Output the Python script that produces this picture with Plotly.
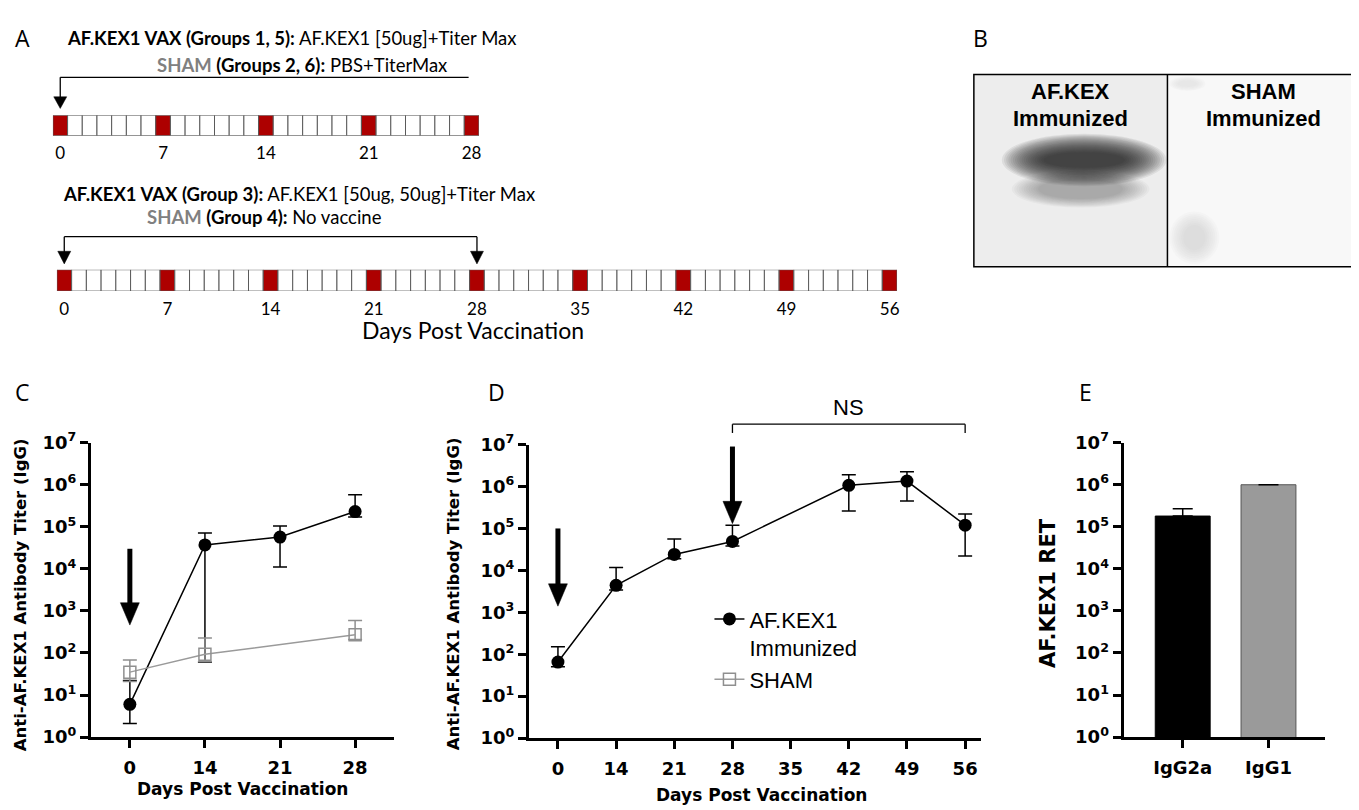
import math
import plotly.graph_objects as go

W, H = 1359, 810

# ---------------- data ----------------
# panel A: vaccination timelines (days, dosing days marked)
top_days = list(range(0, 29))
top_dose_days = [0, 7, 14, 21, 28]
bottom_days = list(range(0, 57))
bottom_dose_days = [0, 7, 14, 21, 28, 35, 42, 49, 56]

# panel C: titers, groups 1/2
c_days = ["0", "14", "21", "28"]
c_kex = [6, 37000, 57000, 230000]
c_kex_hi = [22, 71000, 105000, 575000]
c_kex_lo = [2.1, 60, 11000, 170000]
c_sham_days = ["0", "14", "28"]
c_sham = [35, 93, 270]
c_sham_hi = [68, 228, 590]
c_sham_lo = [21, 62, 210]

# panel D: titers, group 3 (boost at day 28)
d_days = ["0", "14", "21", "28", "35", "42", "49", "56"]
d_kex_days = ["0", "14", "21", "28", "42", "49", "56"]
d_kex = [65, 4400, 24000, 49000, 1070000, 1350000, 120000]
d_kex_hi = [150, 11700, 56000, 120000, 1900000, 2240000, 220000]
d_kex_lo = [50, 3400, 19000, 38000, 260000, 450000, 22000]

# panel E: isotype endpoint titers
e_iso = ["IgG2a", "IgG1"]
e_ret = [180000, 1000000]
e_ret_hi = [270000, None]

log_ticks = [1, 10, 100, 1000, 10000, 100000, 1000000, 10000000]
log_ticktext = ["10<sup>%d</sup>" % i for i in range(8)]

RED = "#ad0000"
GREY = "#8f8f8f"
BOLD = "DejaVu Sans"
ARIAL = "Liberation Sans"
CAL = "Lato"


def fx(x):
    return x / W


def fy(y):
    return 1 - y / H


# panel geometry in pixels
geo = {
    "C": dict(x0=83, x1=387, yb=737, yt=434, xr=(-0.52, 3.52)),
    "D": dict(x0=522, x1=975, yb=738, yt=436, xr=(-0.5, 7.27)),
    "E": dict(x0=1118, x1=1320, yb=737, yt=434, xr=(-0.69, 1.66)),
    "T1": dict(x0=45, x1=472, yb=118, yt=97, xr=(-0.5, 28.5)),
    "T2": dict(x0=49, x1=891, yb=278, yt=256, xr=(-0.5, 56.5)),
}


def gx(p, i):
    g = geo[p]
    return g["x0"] + (i - g["xr"][0]) / (g["xr"][1] - g["xr"][0]) * (g["x1"] - g["x0"])


def gy(p, v):
    g = geo[p]
    return g["yb"] - math.log10(v) / 7 * (g["yb"] - g["yt"])


fig = go.Figure()

# ---------------- panel A ----------------
for days, doses, xa, ya in [(top_days, top_dose_days, "x", "y"),
                            (bottom_days, bottom_dose_days, "x2", "y2")]:
    fig.add_trace(go.Bar(
        x=days, y=[1] * len(days), width=1,
        marker=dict(color=[RED if d in doses else "white" for d in days],
                    line=dict(color="#5a5a5a", width=1)),
        xaxis=xa, yaxis=ya, showlegend=False, hoverinfo="skip"))

# ---------------- panel C ----------------
fig.add_trace(go.Scatter(
    x=c_days, y=c_kex, mode="lines+markers", name="AF.KEX1<br>Immunized",
    line=dict(color="black", width=1.5),
    marker=dict(color="black", size=13),
    error_y=dict(type="data", symmetric=False,
                 array=[h - v for h, v in zip(c_kex_hi, c_kex)],
                 arrayminus=[v - l for v, l in zip(c_kex, c_kex_lo)],
                 color="black", thickness=1.5, width=7),
    xaxis="x3", yaxis="y3"))
fig.add_trace(go.Scatter(
    x=c_sham_days, y=c_sham, mode="lines+markers", name="SHAM",
    line=dict(color="#9a9a9a", width=1.5),
    marker=dict(color=GREY, size=12, symbol="square-open", line=dict(width=1.5)),
    error_y=dict(type="data", symmetric=False,
                 array=[h - v for h, v in zip(c_sham_hi, c_sham)],
                 arrayminus=[v - l for v, l in zip(c_sham, c_sham_lo)],
                 color=GREY, thickness=1.5, width=7),
    xaxis="x3", yaxis="y3"))

# ---------------- panel D ----------------
fig.add_trace(go.Scatter(
    x=d_kex_days, y=d_kex, mode="lines+markers", showlegend=False,
    line=dict(color="black", width=1.5),
    marker=dict(color="black", size=13),
    error_y=dict(type="data", symmetric=False,
                 array=[h - v for h, v in zip(d_kex_hi, d_kex)],
                 arrayminus=[v - l for v, l in zip(d_kex, d_kex_lo)],
                 color="black", thickness=1.5, width=7),
    xaxis="x4", yaxis="y4"))

# ---------------- panel E ----------------
fig.add_trace(go.Bar(
    x=e_iso, y=e_ret, width=0.64, showlegend=False,
    marker=dict(color=["black", "#9a9a9a"], line=dict(color=["black", "#555555"], width=1)),
    error_y=dict(type="data", symmetric=False,
                 array=[None if h is None else h - v for h, v in zip(e_ret_hi, e_ret)],
                 arrayminus=[0, 0], color="black", thickness=1.5, width=10),
    xaxis="x5", yaxis="y5"))

# ---------------- axes ----------------
def dom_x(p):
    return [fx(geo[p]["x0"]), fx(geo[p]["x1"])]


def dom_y(p):
    return [fy(geo[p]["yb"]), fy(geo[p]["yt"])]


tl_axis = dict(showgrid=False, zeroline=False, showline=False, ticks="outside",
               ticklen=2, tickcolor="rgba(0,0,0,0)", tickfont=dict(family=CAL, size=17, color="black"))
fig.update_layout(
    xaxis=dict(tl_axis, domain=dom_x("T1"), range=list(geo["T1"]["xr"]), tickvals=top_dose_days, anchor="y"),
    yaxis=dict(domain=dom_y("T1"), range=[0, 1], visible=False, anchor="x"),
    xaxis2=dict(tl_axis, domain=dom_x("T2"), range=list(geo["T2"]["xr"]), tickvals=bottom_dose_days, anchor="y2"),
    yaxis2=dict(domain=dom_y("T2"), range=[0, 1], visible=False, anchor="x2"),
)

gp_x = dict(type="category", showgrid=False, zeroline=False, showline=True, linewidth=3,
            linecolor="black", ticks="outside", ticklen=8, tickwidth=3, tickcolor="black",
            ticklabelstandoff=4,
            tickfont=dict(family=BOLD, size=18, color="black", weight="bold"))
gp_y = dict(type="log", range=[0, 7], showgrid=False, zeroline=False, showline=True, linewidth=3,
            linecolor="black", ticks="outside", ticklen=8, tickwidth=3, tickcolor="black",
            tickvals=log_ticks, ticktext=log_ticktext, ticklabelstandoff=0,
            tickfont=dict(family=BOLD, size=18, color="black", weight="bold"))

fig.update_layout(
    xaxis3=dict(gp_x, domain=dom_x("C"), range=list(geo["C"]["xr"]), categoryorder="array",
                categoryarray=c_days, anchor="y3"),
    yaxis3=dict(gp_y, domain=dom_y("C"), anchor="x3"),
    xaxis4=dict(gp_x, domain=dom_x("D"), range=list(geo["D"]["xr"]), categoryorder="array",
                categoryarray=d_days, tickvals=d_days, anchor="y4"),
    yaxis4=dict(gp_y, domain=dom_y("D"), anchor="x4"),
    xaxis5=dict(gp_x, domain=dom_x("E"), range=list(geo["E"]["xr"]), categoryorder="array",
                categoryarray=e_iso, anchor="y5"),
    yaxis5=dict(gp_y, domain=dom_y("E"), anchor="x5"),
)

# ---------------- shapes ----------------
shapes = []


def line(x0, y0, x1, y1, w=1.3, color="black"):
    shapes.append(dict(type="line", xref="paper", yref="paper", x0=fx(x0), y0=fy(y0),
                       x1=fx(x1), y1=fy(y1), line=dict(color=color, width=w)))


def tri_down(x, tip, half, length):
    shapes.append(dict(type="path", xref="paper", yref="paper",
                       path="M %f,%f L %f,%f L %f,%f Z" % (fx(x - half), fy(tip - length),
                                                          fx(x + half), fy(tip - length),
                                                          fx(x), fy(tip)),
                       fillcolor="black", line=dict(color="black", width=0.5)))


# timeline brackets
a0 = gx("T1", 0)
a28 = gx("T1", 28)
line(a28 - 3, 58, a0, 58)
line(a0, 58, a0, 80)
tri_down(a0, 90, 6.5, 12)

b0 = gx("T2", 0)
b28 = gx("T2", 28)
line(b0, 222, b28, 222)
for bx in (b0, b28):
    line(bx, 222, bx, 240)
    tri_down(bx, 250, 6.5, 13)


# big vaccination arrows on C and D
def big_arrow(p, i, top_val, tip_val):
    x = gx(p, i)
    top = gy(p, top_val)
    tip = gy(p, tip_val)
    line(x, top, x, tip - 20, w=5)
    tri_down(x, tip, 9.5, 23)


big_arrow("C", 0, 30000, 460)
big_arrow("D", 0, 100000, 1400)
big_arrow("D", 3, 9000000, 130000)

# NS bracket on D
n0 = gx("D", 3)
n1 = gx("D", 7)
line(n0, 415, n1, 415, w=1.3)
line(n0, 415, n0, 424, w=1.3)
line(n1, 415, n1, 424, w=1.3)

# panel B: western blot picture
shapes.append(dict(type="rect", xref="paper", yref="paper", x0=fx(968), x1=fx(1162),
                   y0=fy(253), y1=fy(55), fillcolor="#ededed", line=dict(width=0), layer="below"))
shapes.append(dict(type="rect", xref="paper", yref="paper", x0=fx(1162), x1=fx(1357),
                   y0=fy(253), y1=fy(55), fillcolor="#f8f8f8", line=dict(width=0), layer="below"))


def blur(x0, y0, x1, y1, color, op, steps, shrink_x, shrink_y):
    for k in range(steps):
        shapes.append(dict(type="circle", xref="paper", yref="paper",
                           x0=fx(x0 + k * shrink_x), x1=fx(x1 - k * shrink_x),
                           y0=fy(y1 - k * shrink_y), y1=fy(y0 + k * shrink_y),
                           fillcolor=color, opacity=op, line=dict(width=0)))


blur(996, 116, 1161, 170, "#1a1a1a", 0.075, 20, 2.2, 1.0)    # main band
blur(1006, 154, 1144, 192, "#333333", 0.035, 12, 2.4, 0.8)   # lower faint band
blur(1164, 196, 1214, 250, "#bbbbbb", 0.06, 8, 2.0, 2)       # smudge, sham lane
blur(1164, 57, 1200, 72, "#cccccc", 0.08, 5, 2.0, 1)

shapes.append(dict(type="rect", xref="paper", yref="paper", x0=fx(968), x1=fx(1357),
                   y0=fy(253), y1=fy(55), line=dict(color="black", width=1.5)))
line(1162, 55, 1162, 253, w=1.5)

# ---------------- text ----------------
ann = []


def text(x, y, s, size, family=ARIAL, color="black", xanchor="center", angle=0, weight="normal"):
    ann.append(dict(x=fx(x), y=fy(y), xref="paper", yref="paper", text=s, showarrow=False,
                    xanchor=xanchor, yanchor="middle", textangle=angle,
                    font=dict(family=family, size=size, color=color, weight=weight)))


# panel letters
LET = "Open Sans"
text(15, 18, "A", 23, LET)
text(975, 18, "B", 23, LET)
text(15, 382, "C", 23, LET)
text(490, 382, "D", 23, LET)
text(1080, 382, "E", 23, LET)

# panel A text
text(57, 18, "<b>AF.KEX1 VAX (Groups 1, 5):</b> AF.KEX1 [50ug]+Titer Max", 18.5, CAL, xanchor="left")
text(147, 45, "<b><span style='color:#808080'>SHAM</span> (Groups 2, 6):</b> PBS+TiterMax", 18.5, CAL,
     xanchor="left")
text(53, 178, "<b>AF.KEX1 VAX (Group 3):</b> AF.KEX1 [50ug, 50ug]+Titer Max", 18.5, CAL, xanchor="left")
text(137, 202, "<b><span style='color:#808080'>SHAM</span> (Group 4):</b> No vaccine", 18.5, CAL,
     xanchor="left")
text(466, 318, "Days Post Vaccination", 23, CAL)

# panel B text
text(1065, 73, "AF.KEX", 22, weight="bold")
text(1065, 100, "Immunized", 22, weight="bold")
text(1258, 73, "SHAM", 22, weight="bold")
text(1258, 100, "Immunized", 22, weight="bold")

# axis titles
ytitle = "Anti-AF.KEX1 Antibody Titer (IgG)"
text(12, 590, ytitle, 16.5, BOLD, angle=-90, weight="bold")
text(446, 590, ytitle, 16.5, BOLD, angle=-90, weight="bold")
text(1043, 589, "AF.KEX1 RET", 21, BOLD, angle=-90, weight="bold")
text(235, 790, "Days Post Vaccination", 17, BOLD, weight="bold")
text(755, 797, "Days Post Vaccination", 17, BOLD, weight="bold")
text(842, 398, "NS", 22)

fig.update_layout(
    width=W, height=H, margin=dict(l=0, r=0, t=0, b=0),
    paper_bgcolor="white", plot_bgcolor="white",
    shapes=shapes, annotations=ann,
    legend=dict(x=fx(703), y=fy(594), xanchor="left", yanchor="top",
                font=dict(family=ARIAL, size=22, color="black"),
                bgcolor="rgba(0,0,0,0)", valign="top", tracegroupgap=0),
    showlegend=True,
)

fig.write_html("out.html")
